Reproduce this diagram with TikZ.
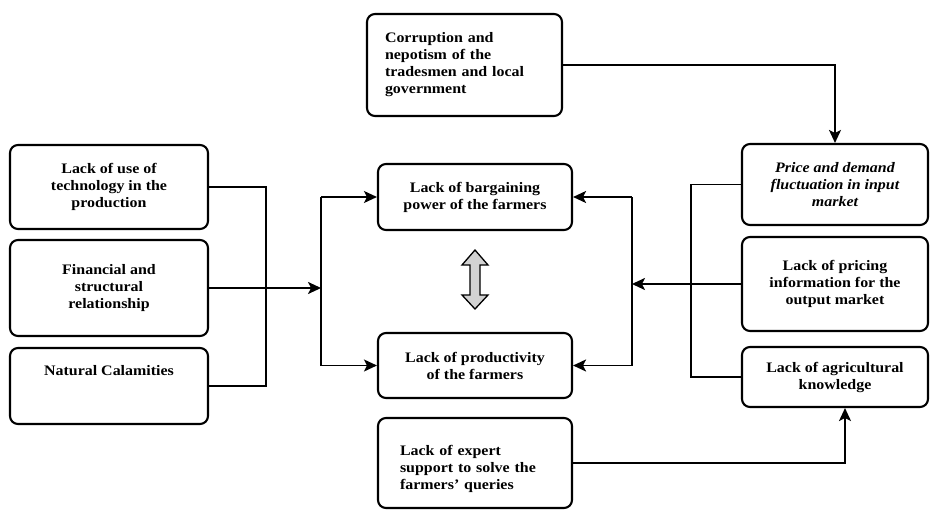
\documentclass[tikz,border=0pt]{standalone}
\usepackage{fontspec}
\setmainfont{Liberation Serif}[FakeStretch=1.1]
\usetikzlibrary{arrows.meta,calc}

\tikzset{
  box/.style={draw, line width=2.1pt, rounded corners=8pt, fill=white,
    inner sep=0pt, align=center,
    font=\bfseries\fontsize{14.5}{17}\selectfont},
  link/.style={line width=1.8pt},
  arr/.style={link, -{Stealth[length=13pt,width=12pt,inset=3pt]}},
  twoway/.style={line width=1.3pt, fill=gray!35},
}

\begin{document}
\begin{tikzpicture}[x=1pt,y=-1pt]
\useasboundingbox (0,0) rectangle (931,511);
\fill[white] (0,0) rectangle (931,511);

% causes on the left
\node[box, minimum width=198pt, minimum height=84pt] (tech) at (109,187)
  {Lack of use of\\technology in the\\production};
\node[box, minimum width=198pt, minimum height=96pt] (fin) at (109,288)
  {Financial and\\structural\\relationship};
\node[box, minimum width=198pt, minimum height=76pt, text depth=32pt] (nat) at (109,386)
  {Natural Calamities};

% top and bottom causes
\node[box, align=left, text width=159pt, minimum width=195pt, minimum height=102pt] (corr) at (464.5,65)
  {Corruption and\\nepotism of the\\tradesmen and local\\government};
\node[box, align=left, text width=150pt, minimum width=194pt, minimum height=90pt, text depth=26pt] (expert) at (475,463)
  {Lack of expert\\support to solve the\\farmers' queries};

% central problems
\node[box, minimum width=194pt, minimum height=66pt] (barg) at (475,197)
  {Lack of bargaining\\power of the farmers};
\node[box, minimum width=194pt, minimum height=65pt] (prod) at (475,365.5)
  {Lack of productivity\\of the farmers};

% causes on the right
\node[box, minimum width=186pt, minimum height=81pt, font=\bfseries\itshape\fontsize{14.5}{17}\selectfont] (price) at (835,184.5)
  {Price and demand\\fluctuation in input\\market};
\node[box, minimum width=186pt, minimum height=94pt] (pricing) at (835,284)
  {Lack of pricing\\information for the\\output market};
\node[box, minimum width=186pt, minimum height=60pt] (agri) at (835,377)
  {Lack of agricultural\\knowledge};

% top and bottom feeds
\draw[arr] (corr.east) -| (price.north);
\draw[arr] (expert.east) -| ([xshift=10pt]agri.south);

% left bracket and junction
\draw[link] (tech.east) -- ++(57,0) |- (nat.east);
\path (fin.east) -- ++(112,0) coordinate (lj);
\draw[arr] (fin.east) -- (lj);
\draw[link] (lj |- barg.west) -- (lj |- prod.west);
\draw[arr] (lj |- barg.west) -- (barg.west);
\draw[arr] (lj |- prod.west) -- (prod.west);

% right bracket and junction
\draw[link] (price.west) -- ++(-50,0) |- (agri.west);
\path (pricing.west) -- ++(-109,0) coordinate (rj);
\draw[arr] (pricing.west) -- (rj);
\draw[link] (rj |- barg.east) -- (rj |- prod.east);
\draw[arr] (rj |- barg.east) -- (barg.east);
\draw[arr] (rj |- prod.east) -- (prod.east);

% two-way link between the central problems
\draw[twoway] (475,250) -- (488,265) -- (480,265) -- (480,295) -- (488,295)
  -- (475,309) -- (462,295) -- (470,295) -- (470,265) -- (462,265) -- cycle;
\end{tikzpicture}
\end{document}
